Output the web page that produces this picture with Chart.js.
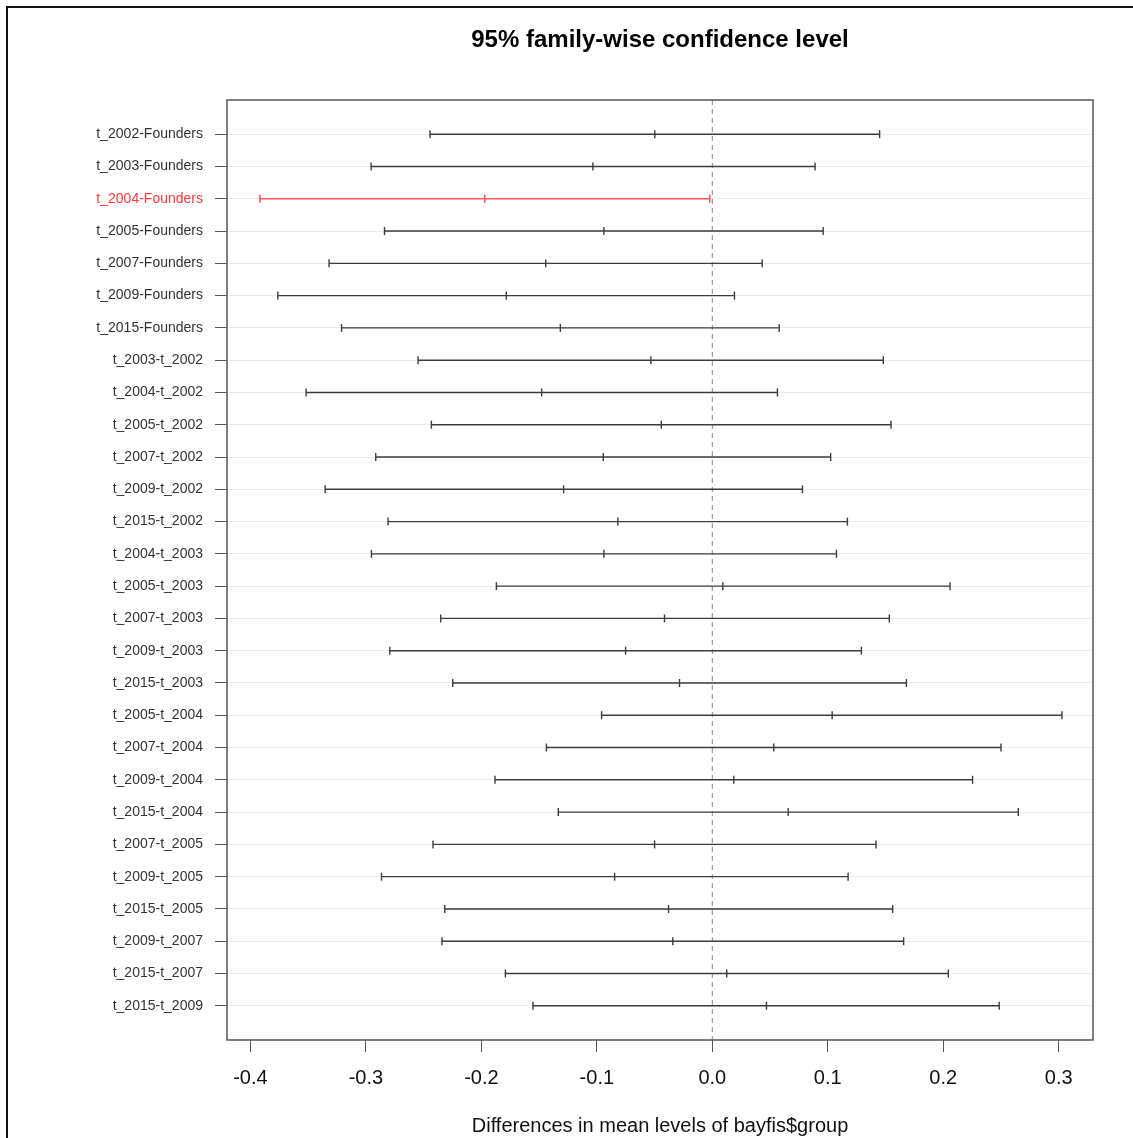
<!DOCTYPE html>
<html>
<head>
<meta charset="utf-8">
<script src="https://cdn.jsdelivr.net/npm/chart.js@4.4.1/dist/chart.umd.min.js"></script>
<style>
  html, body { margin: 0; padding: 0; background: #fff; }
  #wrap { position: relative; width: 1133px; height: 1138px; }
  #frame { position: absolute; left: 6px; top: 6px; right: 0; bottom: 0;
           border-left: 2px solid #111; border-top: 2px solid #111; pointer-events: none; }
</style>
</head>
<body>
<div id="wrap">
  <canvas id="tukeyChart" width="1133" height="1138"></canvas>
  <div id="frame"></div>
</div>
<script>
const comparisons = [
  't_2002-Founders', 't_2003-Founders', 't_2004-Founders', 't_2005-Founders',
  't_2007-Founders', 't_2009-Founders', 't_2015-Founders',
  't_2003-t_2002', 't_2004-t_2002', 't_2005-t_2002', 't_2007-t_2002',
  't_2009-t_2002', 't_2015-t_2002',
  't_2004-t_2003', 't_2005-t_2003', 't_2007-t_2003', 't_2009-t_2003', 't_2015-t_2003',
  't_2005-t_2004', 't_2007-t_2004', 't_2009-t_2004', 't_2015-t_2004',
  't_2007-t_2005', 't_2009-t_2005', 't_2015-t_2005',
  't_2009-t_2007', 't_2015-t_2007',
  't_2015-t_2009'
];
const diff = [
  -0.0498, -0.1034, -0.1971, -0.0939, -0.1443, -0.1784, -0.1316,
  -0.0532, -0.1478, -0.0442, -0.0944, -0.1288, -0.0818,
  -0.0939, 0.0091, -0.0414, -0.0751, -0.0284,
  0.1038, 0.0532, 0.0186, 0.0657,
  -0.0500, -0.0846, -0.0379,
  -0.0342, 0.0125,
  0.0469
];
const lwr = [
  -0.2445, -0.2955, -0.3918, -0.2839, -0.3319, -0.3763, -0.3211,
  -0.2548, -0.3518, -0.2433, -0.2915, -0.3353, -0.2808,
  -0.2952, -0.1870, -0.2352, -0.2793, -0.2248,
  -0.0959, -0.1437, -0.1882, -0.1334,
  -0.2419, -0.2865, -0.2317,
  -0.2341, -0.1792,
  -0.1553
];
const upr = [
  0.1449, 0.0890, -0.0022, 0.0960, 0.0432, 0.0192, 0.0579,
  0.1481, 0.0564, 0.1548, 0.1025, 0.0781, 0.1170,
  0.1075, 0.2059, 0.1533, 0.1291, 0.1681,
  0.3028, 0.2500, 0.2254, 0.2650,
  0.1418, 0.1176, 0.1562,
  0.1657, 0.2044,
  0.2485
];
const xTicks = [-0.4, -0.3, -0.2, -0.1, 0.0, 0.1, 0.2, 0.3];

const FONT = "'Liberation Sans', Arial, Helvetica, sans-serif";
const GREY = '#3c3c3c';
const RED = '#ff5a5a';

// interval does not cover zero -> drawn in red
const signif = comparisons.map((_, i) => upr[i] < 0 || lwr[i] > 0);

function segments(hl) {
  const pts = [];
  comparisons.forEach((_, i) => {
    if (signif[i] !== hl) return;
    pts.push({ x: lwr[i], y: i + 1 }, { x: upr[i], y: i + 1 }, { x: null, y: null });
  });
  return pts;
}
function marks(hl) {
  const pts = [];
  comparisons.forEach((_, i) => {
    if (signif[i] !== hl) return;
    pts.push({ x: lwr[i], y: i + 1 }, { x: diff[i], y: i + 1 }, { x: upr[i], y: i + 1 });
  });
  return pts;
}

const boxPlugin = {
  id: 'rBox',
  beforeDatasetsDraw(chart) {
    const { ctx, chartArea: a, scales } = chart;
    const x0 = scales.x.getPixelForValue(0);
    ctx.save();
    ctx.strokeStyle = '#8a8a8a';
    ctx.lineWidth = 1;
    ctx.setLineDash([5, 4]);
    ctx.beginPath();
    ctx.moveTo(x0, a.top);
    ctx.lineTo(x0, a.bottom);
    ctx.stroke();
    ctx.restore();
  },
  afterDraw(chart) {
    const { ctx, chartArea: a } = chart;
    ctx.save();
    ctx.strokeStyle = '#555';
    ctx.lineWidth = 1.5;
    ctx.strokeRect(a.left, a.top, a.right - a.left, a.bottom - a.top);
    ctx.fillStyle = '#000';
    ctx.font = 'bold 24px ' + FONT;
    ctx.textAlign = 'center';
    ctx.textBaseline = 'middle';
    ctx.fillText('95% family-wise confidence level', (a.left + a.right) / 2, 40);
    ctx.restore();
  }
};

const config = {
  type: 'scatter',
  data: {
    datasets: [
      { data: segments(false), showLine: true, spanGaps: false, borderColor: GREY, borderWidth: 1.4, pointRadius: 0 },
      { data: segments(true), showLine: true, spanGaps: false, borderColor: RED, borderWidth: 1.6, pointRadius: 0 },
      { data: marks(false), pointStyle: 'line', rotation: 90, radius: 4, borderColor: GREY, borderWidth: 1.4 },
      { data: marks(true), pointStyle: 'line', rotation: 90, radius: 4, borderColor: RED, borderWidth: 1.6 }
    ]
  },
  options: {
    responsive: false,
    animation: false,
    events: [],
    layout: { padding: { top: 100, right: 40, bottom: 0, left: 0 } },
    plugins: { legend: { display: false }, tooltip: { enabled: false }, title: { display: false } },
    scales: {
      x: {
        type: 'linear',
        min: -0.4203,
        max: 0.3297,
        afterBuildTicks: s => { s.ticks = xTicks.map(v => ({ value: v })); },
        afterFit: s => { s.height = 98; },
        border: { display: false },
        grid: { drawOnChartArea: false, tickLength: 12, tickColor: '#555', tickWidth: 1 },
        ticks: {
          color: '#111', padding: 14, maxRotation: 0,
          font: { family: FONT, size: 20 },
          callback: v => v.toFixed(1)
        },
        title: {
          display: true, text: 'Differences in mean levels of bayfis$group',
          color: '#111', padding: 0, font: { family: FONT, size: 20 }
        }
      },
      y: {
        type: 'linear',
        reverse: true,
        min: -0.06,
        max: 29.06,
        afterBuildTicks: s => { s.ticks = comparisons.map((_, i) => ({ value: i + 1 })); },
        afterFit: s => { s.width = 227; },
        border: { display: false },
        grid: { color: '#ebebeb', lineWidth: 1, tickLength: 12, tickColor: '#555', tickWidth: 1 },
        ticks: {
          autoSkip: false, padding: 12,
          font: { family: FONT, size: 14 },
          color: c => signif[c.index] ? '#ff3b3b' : '#333',
          callback: v => comparisons[v - 1]
        }
      }
    }
  },
  plugins: [boxPlugin]
};

const tukeyChart = new Chart(document.getElementById('tukeyChart').getContext('2d'), config);
</script>
</body>
</html>
